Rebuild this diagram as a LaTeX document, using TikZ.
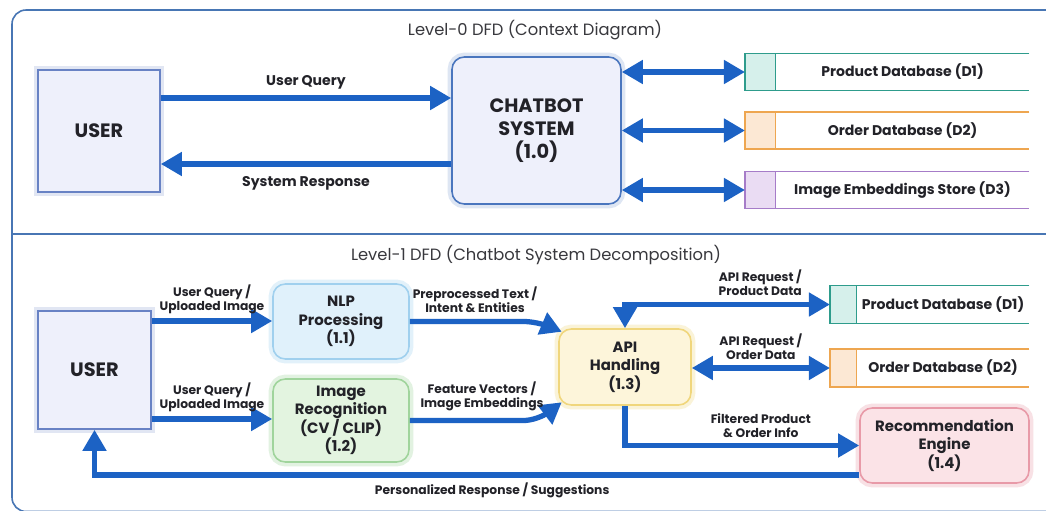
\documentclass[tikz,border=0pt]{standalone}
\usepackage{fontspec}
\setmainfont{Poppins}
\usepackage{tikz}
\usetikzlibrary{arrows.meta}

\definecolor{flowblue}{RGB}{28,98,196}
\definecolor{framecol}{RGB}{72,118,180}
\definecolor{inkcol}{RGB}{34,34,40}
\definecolor{userfill}{RGB}{238,240,251}
\definecolor{userline}{RGB}{104,130,196}
\definecolor{chatline}{RGB}{74,118,190}
\definecolor{tealline}{RGB}{46,156,140}
\definecolor{tealfill}{RGB}{214,240,235}
\definecolor{orangeline}{RGB}{238,166,80}
\definecolor{orangefill}{RGB}{252,232,212}
\definecolor{purpleline}{RGB}{166,124,200}
\definecolor{purplefill}{RGB}{234,220,243}
\definecolor{nlpfill}{RGB}{224,241,251}
\definecolor{nlpline}{RGB}{160,208,238}
\definecolor{imgfill}{RGB}{227,244,224}
\definecolor{imgline}{RGB}{160,212,156}
\definecolor{apifill}{RGB}{253,245,218}
\definecolor{apiline}{RGB}{240,214,124}
\definecolor{recfill}{RGB}{251,227,231}
\definecolor{recline}{RGB}{232,154,168}

\begin{document}
\begin{tikzpicture}[x=0.02cm, y=-0.02cm,
    flow/.style={draw=flowblue, line width=3pt, -{Triangle[length=12pt,width=13pt]}},
    flowboth/.style={flow, {Triangle[length=12pt,width=13pt]}-{Triangle[length=12pt,width=13pt]}},
    entity/.style={draw=userline, line width=0.9pt, fill=userfill, text=inkcol,
      preaction={draw=userline!20, line width=5pt},
      font=\fontsize{11}{13}\selectfont\bfseries},
    proc/.style={rounded corners=7pt, line width=0.9pt, text=inkcol, align=center,
      font=\fontsize{8.5}{10.5}\selectfont\bfseries},
    tab/.style={minimum height=0.72cm, minimum width=0.6cm, inner sep=0pt},
    storetext/.style={minimum height=0.72cm, inner sep=0pt, text=inkcol,
      font=\fontsize{8}{9}\selectfont\bfseries},
    flowlabel/.style={text=inkcol, font=\fontsize{8}{9}\selectfont\bfseries},
    smalllabel/.style={text=inkcol, align=center, inner sep=2pt,
      font=\fontsize{7}{7.8}\selectfont\bfseries},
    title/.style={text=inkcol!90, font=\fontsize{9.3}{11}\selectfont}]
  \clip (0,0) rectangle (1046,511);
  \fill[white] (0,0) rectangle (1046,511);

  % frame of both levels
  \draw[framecol, line width=0.9pt, rounded corners=8pt] (1090,10) -- (12,10) -- (12,511.5) -- (1090,511.5);
  \draw[framecol, line width=0.9pt] (12,234) -- (1090,234);

  % level 0
  \node[title] (title0) at (535,30) {Level-0 DFD (Context Diagram)};
  \node[entity, minimum width=2.44cm, minimum height=2.44cm] (user0) at (99,131) {USER};
  \node[proc, draw=chatline, fill=userfill, minimum width=3.38cm, minimum height=2.94cm,
    preaction={draw=chatline!18, line width=5pt},
    font=\fontsize{11}{13}\selectfont\bfseries] (chat) at (536.5,130.5) {CHATBOT\\SYSTEM\\(1.0)};

  \node[storetext, minimum width=5.06cm] (d1) at (902.5,72) {Product Database (D1)};
  \node[tab, fill=tealfill, anchor=east] (d1tab) at (d1.west) {};
  \node[storetext, minimum width=5.06cm] (d2) at (902.5,130.5) {Order Database (D2)};
  \node[tab, fill=orangefill, anchor=east] (d2tab) at (d2.west) {};
  \node[storetext, minimum width=5.06cm] (d3) at (902.5,190) {Image Embeddings Store (D3)};
  \node[tab, fill=purplefill, anchor=east] (d3tab) at (d3.west) {};

  \coordinate (q0) at ([yshift=0.66cm]user0.east);
  \coordinate (r0) at ([yshift=-0.67cm]chat.west);
  \draw[flow] (q0) -- (q0 -| chat.west) node[flowlabel, midway, above=0pt] {User Query};
  \draw[flow] (r0) -- (r0 -| user0.east) node[flowlabel, midway, below=2pt] {System Response};

  % level 1
  \node[title] (title1) at (536,255) {Level-1 DFD (Chatbot System Decomposition)};
  \node[entity, minimum width=2.26cm, minimum height=2.36cm] (user1) at (94.5,370) {USER};
  \node[proc, draw=nlpline, fill=nlpfill, minimum width=2.72cm, minimum height=1.5cm,
    preaction={draw=nlpline!30, line width=5pt}] (nlp) at (341,321.5) {NLP\\Processing\\(1.1)};
  \node[proc, draw=imgline, fill=imgfill, minimum width=2.72cm, minimum height=1.66cm,
    preaction={draw=imgline!30, line width=5pt}] (img) at (341,420.5) {Image\\Recognition\\(CV / CLIP)\\(1.2)};
  \node[proc, draw=apiline, fill=apifill, minimum width=2.64cm, minimum height=1.52cm,
    preaction={draw=apiline!30, line width=5pt}] (api) at (625,367) {API\\Handling\\(1.3)};
  \node[proc, draw=recline, fill=recfill, minimum width=3.38cm, minimum height=1.5cm,
    preaction={draw=recline!30, line width=5pt}] (rec) at (944.5,445.5) {Recommendation\\Engine\\(1.4)};

  \node[storetext, minimum width=3.44cm, minimum height=0.74cm] (e1) at (943,304.5) {Product Database (D1)};
  \node[tab, fill=tealfill, anchor=east, minimum width=0.52cm, minimum height=0.74cm] (e1tab) at (e1.west) {};
  \node[storetext, minimum width=3.44cm, minimum height=0.74cm] (e2) at (943,368) {Order Database (D2)};
  \node[tab, fill=orangefill, anchor=east, minimum width=0.52cm, minimum height=0.74cm] (e2tab) at (e2.west) {};

  % data store outlines (open at the right end)
  \foreach \s/\c in {d1/tealline, d2/orangeline, d3/purpleline, e1/tealline, e2/orangeline}{
    \draw[\c, line width=0.9pt] (\s.north east) -- (\s tab.north west) -- (\s tab.south west) -- (\s.south east);
    \draw[\c, line width=0.9pt] (\s tab.north east) -- (\s tab.south east);
  }

  \draw[flowboth] (d1tab.west -| chat.east) -- (d1tab.west);
  \draw[flowboth] (d2tab.west -| chat.east) -- (d2tab.west);
  \draw[flowboth] (d3tab.west -| chat.east) -- (d3tab.west);

  \coordinate (u1) at ([yshift=0.98cm]user1.east);
  \coordinate (u2) at ([yshift=-0.98cm]user1.east);
  \draw[flow] (u1) -- (u1 -| nlp.west) node[smalllabel, midway, above=0.5pt] {User Query /\\Uploaded Image};
  \draw[flow] (u2) -- (u2 -| img.west) node[smalllabel, midway, above=0.5pt] {User Query /\\Uploaded Image};

  \draw[flow, rounded corners=8pt] (nlp.east) -- ++(128,0) -- ([xshift=2pt,yshift=-2pt]api.north west);
  \node[smalllabel] (l1) at (475,300) {Preprocessed Text /\\Intent \& Entities};
  \draw[flow, rounded corners=8pt] (img.east) -- ++(128,0) -- ([xshift=2pt,yshift=2pt]api.south west);
  \node[smalllabel] (l2) at (482,396) {Feature Vectors /\\Image Embeddings};

  \draw[flowboth] (api.north) |- (e1tab.west) node[smalllabel, pos=0.83, above=1.5pt] {API Request /\\Product Data};
  \draw[flowboth] (api.east |- e2tab.west) -- (e2tab.west) node[smalllabel, midway, above=1.5pt] {API Request /\\Order Data};
  \draw[flow] (api.south) |- (rec.west) node[smalllabel, pos=0.79, above=1pt] {Filtered Product\\\& Order Info};
  \draw[flow] ([yshift=-0.59cm]rec.west) -| (user1.south) node[smalllabel, pos=0.24, below=1pt] {Personalized Response / Suggestions};
\end{tikzpicture}
\end{document}
